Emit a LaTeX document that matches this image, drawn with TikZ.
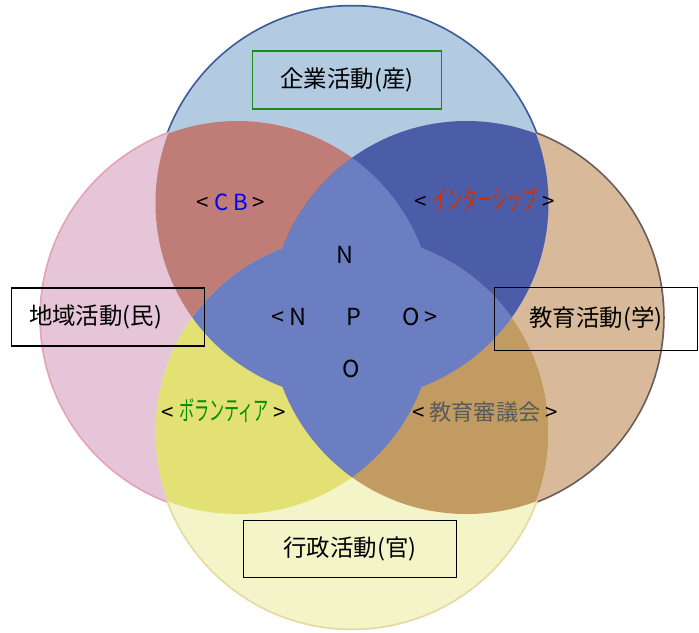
\documentclass[tikz,border=0pt]{standalone}
\usepackage{fontspec}
\setmainfont{Noto Sans CJK JP}
\definecolor{topfill}{HTML}{B2CBE1}
\definecolor{leftfill}{HTML}{E5C5D7}
\definecolor{rightfill}{HTML}{D8B99A}
\definecolor{botfill}{HTML}{F3F4C8}
\definecolor{tlfill}{HTML}{C07D77}
\definecolor{trfill}{HTML}{4B5DA9}
\definecolor{blfill}{HTML}{E3E173}
\definecolor{brfill}{HTML}{C19B61}
\definecolor{npofill}{HTML}{6A7EC1}
\definecolor{topline}{HTML}{3D5B9B}
\definecolor{leftline}{HTML}{E3A4B6}
\definecolor{rightline}{HTML}{6A5E5C}
\definecolor{botline}{HTML}{E6D8A2}
\definecolor{cbblue}{HTML}{0000F0}
\definecolor{internred}{HTML}{D03000}
\definecolor{volgreen}{HTML}{009000}
\definecolor{councilgray}{HTML}{5A5A5A}
\definecolor{boxgreen}{HTML}{1A8A1A}
\newcommand{\narrowkana}[1]{\scalebox{0.68}[1.2]{#1}}
\begin{document}
\begin{tikzpicture}[x=0.03cm,y=-0.03cm,
  sector/.style={draw=black,line width=1.6pt,font=\fontsize{20}{22}\selectfont,minimum height=1.74cm},
  overlap/.style={font=\fontsize{19}{21}\selectfont},
  letter/.style={font=\fontsize{20}{22}\selectfont}]
  \useasboundingbox (0,0) rectangle (699,632);
  \def\rad{196.5}

  \coordinate (T) at (352,203);
  \coordinate (L) at (237.5,317.5);
  \coordinate (R) at (466.5,317.5);
  \coordinate (B) at (352,432);

  \draw[topline,line width=3pt] (T) circle[radius=\rad];
  \draw[leftline,line width=3pt] (L) circle[radius=\rad];
  \draw[rightline,line width=3pt] (R) circle[radius=\rad];
  \draw[botline,line width=3pt] (B) circle[radius=\rad];

  \fill[topfill] (T) circle[radius=\rad];
  \fill[leftfill] (L) circle[radius=\rad];
  \fill[rightfill] (R) circle[radius=\rad];
  \fill[botfill] (B) circle[radius=\rad];

  \begin{scope}
    \clip (T) circle[radius=\rad];
    \fill[tlfill] (L) circle[radius=\rad];
    \fill[trfill] (R) circle[radius=\rad];
  \end{scope}
  \begin{scope}
    \clip (B) circle[radius=\rad];
    \fill[blfill] (L) circle[radius=\rad];
    \fill[brfill] (R) circle[radius=\rad];
  \end{scope}
  \begin{scope}
    \clip (T) circle[radius=\rad];
    \fill[npofill] (B) circle[radius=\rad];
  \end{scope}
  \begin{scope}
    \clip (L) circle[radius=\rad];
    \fill[npofill] (R) circle[radius=\rad];
  \end{scope}

  \node[sector,draw=boxgreen,minimum width=5.67cm] (industry) at (347,80) {企業活動(産)};
  \node[sector,minimum width=5.79cm] (community) at (108,317) {地域活動(民)\hspace*{0.75cm}};
  \node[sector,minimum width=6.09cm,minimum height=1.89cm] (school) at (596,319) {教育活動(学)};
  \node[sector,minimum width=6.39cm,minimum height=1.71cm] (government) at (350,549) {行政活動(官)};

  \node[overlap] (cb) at (231,202) {<\ \textcolor{cbblue}{C\ B}\ >};
  \node[overlap] (intern) at (485,199) {<\ \textcolor{internred}{\narrowkana{インターシップ}}\ >};
  \node[overlap] (volunteer) at (224,411) {<\ \textcolor{volgreen}{\narrowkana{ボランティア}}\ >};
  \node[overlap] (council) at (485,412) {<\ \textcolor{councilgray}{教育審議会}\ >};

  \node[letter] (n1) at (345,255) {N};
  \node[letter] (n2) at (289,317) {<\ N};
  \node[letter] (p) at (354,317) {P};
  \node[letter] (o1) at (420,317) {O\ >};
  \node[letter] (o2) at (351,369) {O};
\end{tikzpicture}
\end{document}
